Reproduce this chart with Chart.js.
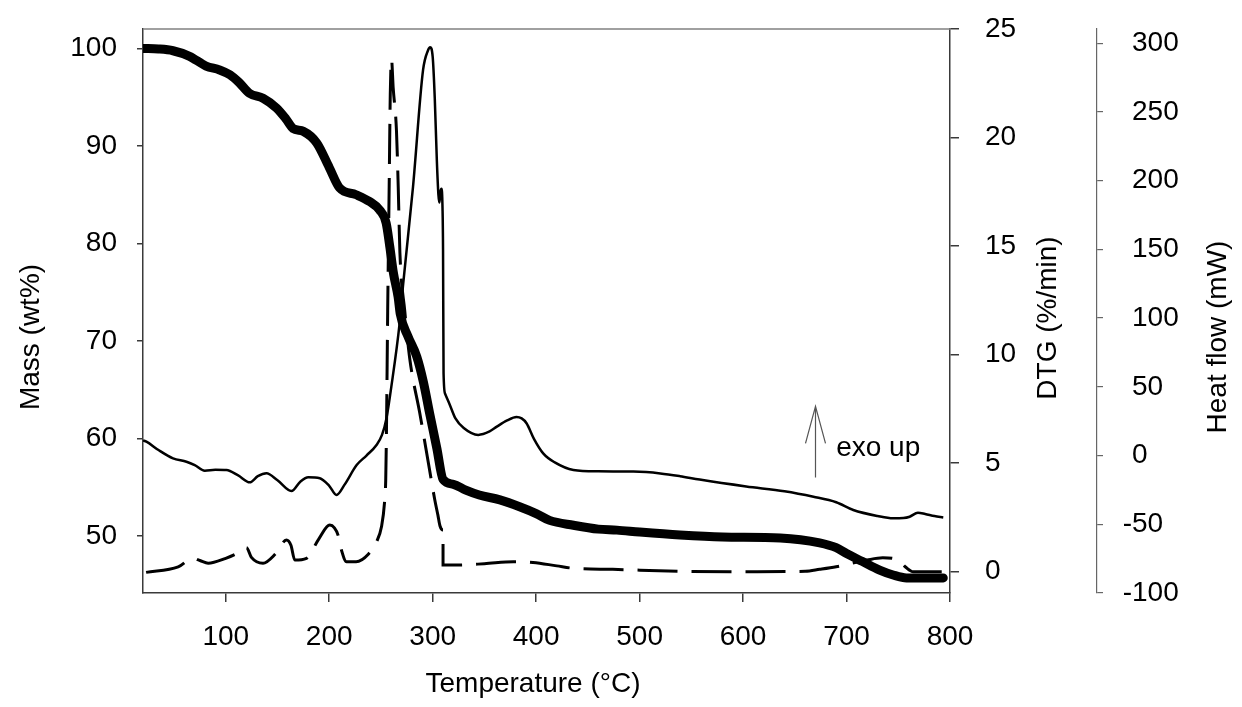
<!DOCTYPE html>
<html><head><meta charset="utf-8">
<script src="https://cdn.jsdelivr.net/npm/chart.js@4"></script>
<style>html,body{margin:0;padding:0;background:#fff}#wrap{width:1242px;height:707px;position:relative}</style>
</head><body><div id="wrap"><canvas id="c"></canvas></div>
<script>
// ---------- data ----------
const tempTicks = [100, 200, 300, 400, 500, 600, 700, 800];
const massTicks = [50, 60, 70, 80, 90, 100];
const dtgTicks = [0, 5, 10, 15, 20, 25];
const heatTicks = [-100, -50, 0, 50, 100, 150, 200, 250, 300];

const massT = [20, 35, 49, 65, 81, 94, 104, 113, 123, 136, 149, 158, 165, 175, 188, 200, 210, 226, 239, 249, 255, 258.5, 262, 266.6, 268.6, 276, 284.6, 291, 297, 304, 310, 320, 332, 345, 365, 384, 400, 413, 436, 460, 478, 500, 539, 580, 636, 674, 690, 700, 715, 732, 745, 758, 793.5];
const massV = [100.0, 99.95, 99.77, 99.2, 98.2, 97.8, 97.3, 96.5, 95.4, 94.9, 93.9, 92.8, 91.8, 91.5, 90.3, 87.8, 85.7, 85.0, 84.3, 83.4, 82.1, 79.7, 77.0, 74.5, 72.8, 70.5, 68.4, 65.8, 62.6, 59.0, 55.8, 55.3, 54.7, 54.2, 53.7, 53.0, 52.3, 51.6, 51.1, 50.7, 50.6, 50.4, 50.1, 49.9, 49.8, 49.3, 48.8, 48.2, 47.4, 46.5, 46.0, 45.7, 45.7];

const dtgT = [23, 54, 68, 75, 83, 100, 112, 120, 124.8, 136, 148, 158.6, 163, 166.7, 178, 190, 200.5, 205, 208.5, 211.8, 216.7, 226, 238, 245.7, 250.5, 253.5, 254.6, 255.3, 256.5, 258, 259, 260.2, 261.8, 265, 266.7, 268.3, 273, 278, 287.5, 297, 302, 305, 307, 310, 310, 323, 350, 378, 397, 420, 436, 474, 540, 600, 660, 674, 690, 720, 735, 750, 757, 764.5, 793.5];
const dtgV = [-0.05, 0.2, 0.6, 0.5, 0.37, 0.6, 0.85, 1.09, 0.64, 0.37, 0.8, 1.44, 1.2, 0.52, 0.6, 1.5, 2.13, 2.0, 1.67, 0.98, 0.44, 0.44, 0.8, 1.36, 2.05, 3.2, 4.2, 6.4, 12, 18, 22, 23.6, 22.3, 20.3, 17.7, 14.7, 12.0, 9.74, 7.3, 4.67, 3.3, 2.6, 2.1, 1.9, 0.29, 0.29, 0.35, 0.44, 0.41, 0.25, 0.14, 0.09, 0.0, -0.02, 0.0, 0.09, 0.21, 0.52, 0.62, 0.52, 0.2, -0.02, -0.02];

const heatT = [20, 23.3, 35, 49, 62, 70, 79.7, 90, 100.6, 112, 123.2, 131, 139.3, 150, 163.5, 172, 179.8, 190.9, 200, 207, 215, 226.5, 236, 245.7, 251, 255.3, 260, 268, 271.5, 281, 290.7, 295.6, 297.5, 300, 302, 304, 305.5, 306.5, 307.5, 308.5, 309.5, 310, 310.5, 312, 316.5, 322, 330, 344, 355, 362, 372, 381, 386, 390.7, 398, 406.8, 418, 436, 460, 494, 520, 539, 558, 603, 640, 668, 690, 706.5, 730, 745, 755, 761, 769, 776, 785, 793.5];
const heatV = [11, 10.1, 4, -2.0, -4.5, -7, -11.0, -10.3, -10.5, -14.5, -19.5, -15, -12.9, -18, -25.8, -19, -15.8, -16.5, -22, -28.7, -21, -6.9, 0, 7.7, 15, 27, 50, 96, 125, 195.6, 280.5, 295, 297, 290, 260, 215, 190, 184, 192, 194, 180, 150, 60, 45, 37, 27, 20, 15, 17.5, 21, 25.5, 28, 27, 23.5, 12, 1.6, -5, -10.5, -11.5, -11.7, -13, -15, -17.5, -22.5, -26, -30, -34, -39.6, -44, -45.7, -45.5, -44.5, -41.6, -42.5, -44, -45];

// annotation (data units: temperature / mass axis)
const arrowT = 670, arrowFrom = 56.0, arrowTo = 63.3;
const noteT = 690, noteMass = 59.0, noteText = 'exo up';

const pts = (xs, ys) => xs.map((x, i) => ({x, y: ys[i]}));

// ---------- style ----------
const FONT = '"Liberation Sans", Arial, Helvetica, sans-serif';
const tickFont = {family: FONT, size: 28};
const axisCol = '#3a3a3a';

function fixTicks(list) { return s => { s.ticks = list.map(v => ({value: v})); }; }
function fitV(w) { return s => { s.width = w; s.paddingTop = 0; s.paddingBottom = 0; }; }

const overlay = {
  id: 'overlay',
  afterDraw(chart) {
    const {ctx, chartArea: a, scales} = chart;
    ctx.save();
    ctx.strokeStyle = '#808080'; ctx.lineWidth = 1.5;
    ctx.beginPath(); ctx.moveTo(a.left, a.top); ctx.lineTo(a.right, a.top); ctx.stroke();

    ctx.fillStyle = '#000';
    ctx.font = '28px ' + FONT;
    ctx.textAlign = 'center'; ctx.textBaseline = 'middle';
    const vtitle = (t, x, y) => { ctx.save(); ctx.translate(x, y); ctx.rotate(-Math.PI / 2); ctx.fillText(t, 0, 0); ctx.restore(); };
    vtitle('Mass (wt%)', 31, 337);
    vtitle('DTG (%/min)', 1048, 318);
    vtitle('Heat flow (mW)', 1218, 337);
    ctx.fillText('Temperature (°C)', 533, 684);

    // heat-flow tick labels (digits aligned, minus sign hanging)
    ctx.textAlign = 'left';
    const minusW = ctx.measureText('-').width;
    const hs = scales.yH;
    heatTicks.forEach(v => {
      const lx = hs.left + 35 - (v < 0 ? minusW : 0);
      ctx.fillText(String(v), lx, hs.getPixelForValue(v));
    });

    // arrow
    const ax = scales.x.getPixelForValue(arrowT);
    const y0 = scales.y.getPixelForValue(arrowFrom), y1 = scales.y.getPixelForValue(arrowTo);
    ctx.strokeStyle = '#555'; ctx.lineWidth = 1.2;
    ctx.beginPath(); ctx.moveTo(ax, y0); ctx.lineTo(ax, y1);
    ctx.moveTo(ax - 10, y1 + 37); ctx.lineTo(ax, y1); ctx.lineTo(ax + 10, y1 + 37);
    ctx.stroke();
    ctx.fillText(noteText, scales.x.getPixelForValue(noteT), scales.y.getPixelForValue(noteMass));
    ctx.restore();
  }
};

new Chart(document.getElementById('c'), {
  type: 'line',
  data: {
    datasets: [
      {label: 'Mass', data: pts(massT, massV), yAxisID: 'y', borderColor: '#000', borderWidth: 9, borderCapStyle: 'round', borderJoinStyle: 'round', pointRadius: 0, cubicInterpolationMode: 'monotone', fill: false},
      {label: 'Heat flow', data: pts(heatT, heatV), yAxisID: 'yH', borderColor: '#000', borderWidth: 2.5, pointRadius: 0, cubicInterpolationMode: 'monotone', fill: false},
      {label: 'DTG', data: pts(dtgT, dtgV), yAxisID: 'yD', borderColor: '#000', borderWidth: 3, borderDash: [40, 14], pointRadius: 0, cubicInterpolationMode: 'monotone', fill: false}
    ]
  },
  options: {
    responsive: true, maintainAspectRatio: false, animation: false,
    layout: {padding: {top: 29, left: 0, right: 0, bottom: 0}},
    plugins: {legend: {display: false}, tooltip: {enabled: false}},
    scales: {
      x: {type: 'linear', position: 'bottom', min: 20, max: 800,
        afterBuildTicks: fixTicks(tempTicks), afterFit: s => { s.height = 114; s.paddingLeft = 0; s.paddingRight = 0; },
        grid: {drawOnChartArea: false, drawTicks: true, tickLength: 9, color: axisCol, lineWidth: 1.5},
        border: {display: true, color: axisCol, width: 1.5},
        ticks: {font: tickFont, color: '#000', padding: 18, maxRotation: 0, autoSkip: false}},
      y: {type: 'linear', position: 'left', min: 44.15, max: 102,
        afterBuildTicks: fixTicks(massTicks), afterFit: fitV(143),
        grid: {drawOnChartArea: false, drawTicks: true, tickLength: 6, color: axisCol, lineWidth: 1.5},
        border: {display: true, color: axisCol, width: 1.5},
        ticks: {font: tickFont, color: '#000', padding: 20, autoSkip: false}},
      yD: {type: 'linear', position: 'right', weight: 0, min: -1, max: 25,
        afterBuildTicks: fixTicks(dtgTicks), afterFit: fitV(147),
        grid: {drawOnChartArea: false, drawTicks: true, tickLength: 9, color: axisCol, lineWidth: 1.5},
        border: {display: true, color: axisCol, width: 1.5},
        ticks: {font: tickFont, color: '#000', padding: 26, autoSkip: false}},
      yH: {type: 'linear', position: 'right', weight: 1, min: -100, max: 310.3,
        afterBuildTicks: fixTicks(heatTicks), afterFit: fitV(145),
        grid: {drawOnChartArea: false, drawTicks: true, tickLength: 6, color: '#666', lineWidth: 1.2},
        border: {display: true, color: '#666', width: 1.2},
        ticks: {display: false, font: tickFont}}
    }
  },
  plugins: [overlay]
});
</script>
</body></html>
